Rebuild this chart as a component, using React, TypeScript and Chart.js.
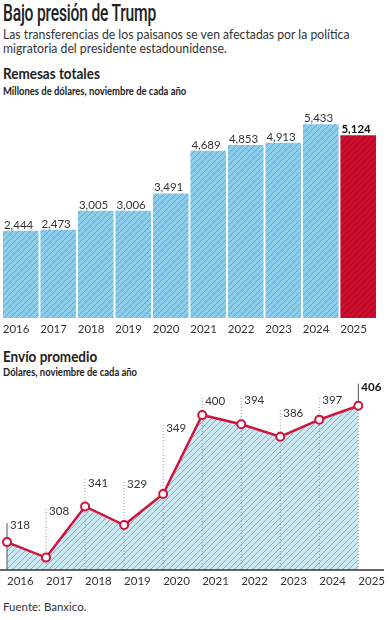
import React, { useEffect, useRef } from "react";
import { Chart, registerables } from "chart.js";

Chart.register(...registerables);

const years = ["2016", "2017", "2018", "2019", "2020", "2021", "2022", "2023", "2024", "2025"];
const remesas = [2444, 2473, 3005, 3006, 3491, 4689, 4853, 4913, 5433, 5124];
const envio = [318, 308, 341, 329, 349, 400, 394, 386, 397, 406];

const FONT = "Lato, 'Open Sans', sans-serif";
const TEXT = "#333333";
const RED = "#d0143a";

function stripe(bg: string, fg: string, size = 6): CanvasPattern | string {
  const c = document.createElement("canvas");
  c.width = size;
  c.height = size;
  const x = c.getContext("2d");
  if (!x) return bg;
  x.fillStyle = bg;
  x.fillRect(0, 0, size, size);
  x.strokeStyle = fg;
  x.lineWidth = 1;
  x.beginPath();
  x.moveTo(0, size);
  x.lineTo(size, 0);
  x.moveTo(-1, 1);
  x.lineTo(1, -1);
  x.moveTo(size - 1, size + 1);
  x.lineTo(size + 1, size - 1);
  x.stroke();
  return x.createPattern(c, "repeat") || bg;
}

const fmt = (v: number) => v.toLocaleString("en-US");

function BarChart() {
  const ref = useRef<HTMLCanvasElement>(null);
  useEffect(() => {
    if (!ref.current) return;
    const blue = stripe("#8bcdeb", "#5fa6c9");
    const red = stripe("#c8102e", "#9c0b22");
    const valueLabels = {
      id: "valueLabels",
      afterDatasetsDraw(chart: any) {
        const ctx = chart.ctx;
        const meta = chart.getDatasetMeta(0);
        ctx.save();
        ctx.textAlign = "left";
        ctx.textBaseline = "alphabetic";
        meta.data.forEach((bar: any, i: number) => {
          const last = i === remesas.length - 1;
          ctx.font = `${last ? "bold " : ""}11.5px ${FONT}`;
          ctx.fillStyle = last ? "#111" : TEXT;
          ctx.fillText(fmt(remesas[i]), bar.x - bar.width / 2 + 1, bar.y - 2);
        });
        ctx.restore();
      },
    };
    const chart = new Chart(ref.current, {
      type: "bar",
      data: {
        labels: years,
        datasets: [
          {
            data: remesas,
            backgroundColor: remesas.map((_, i) => (i === remesas.length - 1 ? red : blue)),
            borderWidth: 0,
            barPercentage: 1,
            categoryPercentage: 0.95,
          },
        ],
      },
      options: {
        animation: false,
        responsive: false,
        layout: { padding: { left: 2, right: 2, top: 4, bottom: 0.2 } },
        plugins: { legend: { display: false }, tooltip: { enabled: false } },
        scales: {
          x: {
            grid: { display: false, drawTicks: false },
            border: { display: false },
            ticks: {
              align: "start",
              labelOffset: -18,
              padding: 4,
              color: TEXT,
              font: { family: FONT, size: 11.5 },
              maxRotation: 0,
            },
          },
          y: { display: false, min: 0, max: 6000 },
        },
      },
      plugins: [valueLabels],
    } as any);
    return () => chart.destroy();
  }, []);
  return <canvas ref={ref} width={389} height={240} style={{ position: "absolute", left: 0, top: 100 }} />;
}

function LineChart() {
  const ref = useRef<HTMLCanvasElement>(null);
  useEffect(() => {
    if (!ref.current) return;
    const area = stripe("#cbe8f5", "#86adc2");
    const labelLift = [17, 46, 23, 41, 66, 14, 24, 23, 19, 18];
    const guides = {
      id: "guides",
      beforeDatasetDraw(chart: any) {
        const ctx = chart.ctx;
        const meta = chart.getDatasetMeta(0);
        const base = chart.scales.y.getPixelForValue(chart.scales.y.min);
        ctx.save();
        meta.data.forEach((pt: any, i: number) => {
          const top = pt.y - labelLift[i] - 4;
          const first = i === 0;
          const last = i === envio.length - 1;
          ctx.lineWidth = 1;
          if (first) {
            ctx.setLineDash([]);
            ctx.strokeStyle = "#555";
            ctx.beginPath();
            ctx.moveTo(pt.x, base);
            ctx.lineTo(pt.x, top + 2);
            ctx.stroke();
          } else if (last) {
            ctx.setLineDash([1, 2]);
            ctx.strokeStyle = "#999";
            ctx.beginPath();
            ctx.moveTo(pt.x, base);
            ctx.lineTo(pt.x, pt.y);
            ctx.stroke();
            ctx.setLineDash([]);
            ctx.strokeStyle = "#555";
            ctx.beginPath();
            ctx.moveTo(pt.x, pt.y);
            ctx.lineTo(pt.x, top);
            ctx.stroke();
          } else {
            ctx.setLineDash([1, 2]);
            ctx.strokeStyle = "#999";
            ctx.beginPath();
            ctx.moveTo(pt.x, base);
            ctx.lineTo(pt.x, top);
            ctx.stroke();
          }
        });
        ctx.setLineDash([]);
        ctx.strokeStyle = "#333";
        ctx.lineWidth = 1.5;
        ctx.beginPath();
        ctx.moveTo(0, base);
        ctx.lineTo(384, base);
        ctx.stroke();
        ctx.restore();
      },
      afterDatasetsDraw(chart: any) {
        const ctx = chart.ctx;
        const meta = chart.getDatasetMeta(0);
        ctx.save();
        ctx.textAlign = "left";
        ctx.textBaseline = "middle";
        meta.data.forEach((pt: any, i: number) => {
          const last = i === envio.length - 1;
          ctx.font = `${last ? "bold " : ""}11.5px ${FONT}`;
          ctx.fillStyle = last ? "#111" : TEXT;
          ctx.fillText(String(envio[i]), pt.x + 3, pt.y - labelLift[i]);
        });
        ctx.restore();
      },
    };
    const chart = new Chart(ref.current, {
      type: "line",
      data: {
        labels: years,
        datasets: [
          {
            data: envio,
            borderColor: RED,
            borderWidth: 2.5,
            backgroundColor: area,
            fill: "start",
            tension: 0,
            pointRadius: 4,
            pointBorderWidth: 2,
            pointBorderColor: RED,
            pointBackgroundColor: "#ffffff",
          },
        ],
      },
      options: {
        animation: false,
        responsive: false,
        layout: { padding: { left: 7, right: 26, top: 2, bottom: 2.2 } },
        plugins: { legend: { display: false }, tooltip: { enabled: false } },
        scales: {
          x: {
            offset: false,
            grid: { display: false, drawTicks: false },
            border: { display: false },
            ticks: {
              align: "start",
              padding: 4,
              color: TEXT,
              font: { family: FONT, size: 11.5 },
              maxRotation: 0,
              autoSkip: false,
            },
          },
          y: { display: false, min: 300, max: 420 },
        },
      },
      plugins: [guides],
    } as any);
    return () => chart.destroy();
  }, []);
  return <canvas ref={ref} width={389} height={216} style={{ position: "absolute", left: 0, top: 378 }} />;
}

export default function App() {
  const abs = (top: number, extra: React.CSSProperties = {}): React.CSSProperties => ({
    position: "absolute",
    left: 3,
    top,
    fontFamily: FONT,
    color: TEXT,
    whiteSpace: "nowrap",
    margin: 0,
    transformOrigin: "left top",
    ...extra,
  });
  return (
    <div style={{ position: "fixed", left: 0, top: 0, width: 389, height: 620, background: "#fff", overflow: "hidden" }}>
      <div
        style={abs(0, {
          fontFamily: "Roboto, sans-serif",
          fontSize: 23,
          fontWeight: 500,
          color: "#222",
          lineHeight: "28px",
          transform: "scaleX(0.68)",
          letterSpacing: -0.3,
        })}
      >
        Bajo presión de Trump
      </div>
      <div style={abs(27, { fontSize: 13, lineHeight: "14px", color: "#333", transform: "scaleX(0.94)" })}>
        Las transferencias de los paisanos se ven afectadas por la política
        <br />
        migratoria del presidente estadounidense.
      </div>
      <div style={abs(65, { fontSize: 14.5, fontWeight: 700, lineHeight: "18px", color: "#222", transform: "scaleX(0.93)" })}>
        Remesas totales
      </div>
      <div style={abs(84, { fontSize: 11, fontWeight: 700, lineHeight: "14px", color: "#222", transform: "scaleX(0.86)" })}>
        Millones de dólares, noviembre de cada año
      </div>
      <BarChart />
      <div style={abs(348, { fontSize: 14.5, fontWeight: 700, lineHeight: "18px", color: "#222", transform: "scaleX(0.93)" })}>
        Envío promedio
      </div>
      <div style={abs(365, { fontSize: 11, fontWeight: 700, lineHeight: "14px", color: "#222", transform: "scaleX(0.86)" })}>
        Dólares, noviembre de cada año
      </div>
      <LineChart />
      <div style={abs(600, { fontSize: 11.5, lineHeight: "14px", color: "#333" })}>Fuente: Banxico.</div>
    </div>
  );
}
